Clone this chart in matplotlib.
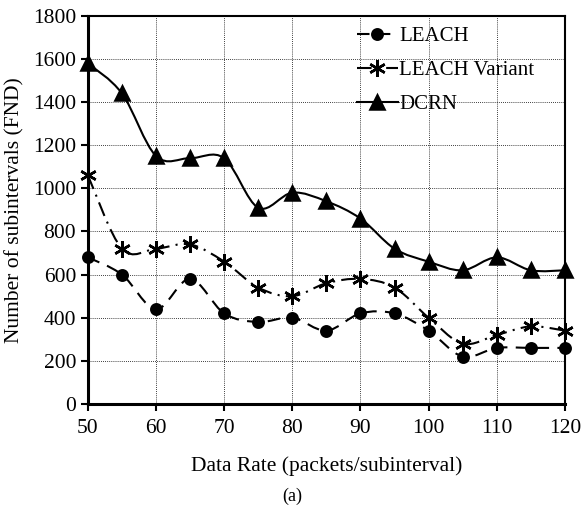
import matplotlib
matplotlib.use("Agg")
import matplotlib.pyplot as plt
from matplotlib.path import Path
from matplotlib.patches import PathPatch
from matplotlib.lines import Line2D
import numpy as np

plt.rcParams['font.family'] = ['Liberation Serif', 'DejaVu Serif']

data_rate = [50, 55, 60, 65, 70, 75, 80, 85, 90, 95, 100, 105, 110, 115, 120]
leach = [680, 600, 440, 580, 420, 380, 400, 340, 420, 420, 340, 220, 260, 260, 260]
leach_variant = [1060, 720, 720, 740, 660, 540, 500, 560, 580, 540, 400, 280, 320, 360, 340]
dcrn = [1580, 1440, 1150, 1140, 1140, 910, 980, 940, 860, 720, 660, 620, 680, 620, 620]
series_names = ["LEACH", "LEACH Variant", "DCRN"]
x_ticks = [50, 60, 70, 80, 90, 100, 110, 120]
y_ticks = [0, 200, 400, 600, 800, 1000, 1200, 1400, 1600, 1800]

fig = plt.figure(figsize=(5.86, 5.12), dpi=100)
ax = fig.add_axes([0.150, 0.211, 0.814, 0.758])


def smooth_path(xs, ys):
    pts = np.column_stack([xs, ys]).astype(float)
    verts = [pts[0]]
    codes = [Path.MOVETO]
    n = len(pts)
    for i in range(n - 1):
        p0 = pts[i - 1] if i > 0 else pts[i]
        p1 = pts[i]
        p2 = pts[i + 1]
        p3 = pts[i + 2] if i + 2 < n else pts[i + 1]
        c1 = p1 + (p2 - p0) / 6.0
        c2 = p2 - (p3 - p1) / 6.0
        verts += [c1, c2, p2]
        codes += [Path.CURVE4] * 3
    return Path(verts, codes)


styles = [
    dict(vals=leach, ls=(0, (6, 4)), marker='o', ms=7.5),
    dict(vals=leach_variant, ls=(0, (7, 3, 1, 3)), marker=(6, 2, 0), ms=12),
    dict(vals=dcrn, ls='-', marker='^', ms=10),
]

handles = []
for name, st in zip(series_names, styles):
    patch = PathPatch(smooth_path(data_rate, st['vals']), facecolor='none',
                      edgecolor='black', lw=1.5, linestyle=st['ls'], zorder=3)
    ax.add_patch(patch)
    ax.plot(data_rate, st['vals'], linestyle='none', marker=st['marker'],
            markersize=st['ms'], color='black', markeredgewidth=1.8, zorder=4,
            clip_on=False)
    handles.append(Line2D([], [], color='black', lw=1.5, linestyle=st['ls'],
                          marker=st['marker'], markersize=st['ms'],
                          markeredgewidth=1.8, label=name))

ax.set_xlim(50, 120)
ax.set_ylim(0, 1800)
ax.set_xticks(x_ticks)
ax.set_yticks(y_ticks)
ax.tick_params(axis='both', direction='out', length=5, width=1.5, labelsize=15.5,
               colors='black')
ax.tick_params(axis='x', pad=6)
ax.grid(True, color='black', linestyle=(0, (1, 1.5)), linewidth=0.6)
ax.set_axisbelow(True)
for side in ['left', 'bottom']:
    ax.spines[side].set_linewidth(2.2)
for side in ['top', 'right']:
    ax.spines[side].set_linewidth(1.5)

ax.set_xlabel("Data Rate (packets/subinterval)", fontsize=15.5, labelpad=13)
ax.set_ylabel("Number of subintervals (FND)", fontsize=15.5, labelpad=6)
fig.text(0.498, 0.030, "(a)", ha='center', va='center', fontsize=13)

leg = ax.legend(handles=handles, loc='upper left', bbox_to_anchor=(0.537, 1.005),
                frameon=False, fontsize=15, handlelength=2.0, handletextpad=0.05,
                labelspacing=0.7, borderaxespad=0.2)

fig.savefig("out.png", dpi=100)
